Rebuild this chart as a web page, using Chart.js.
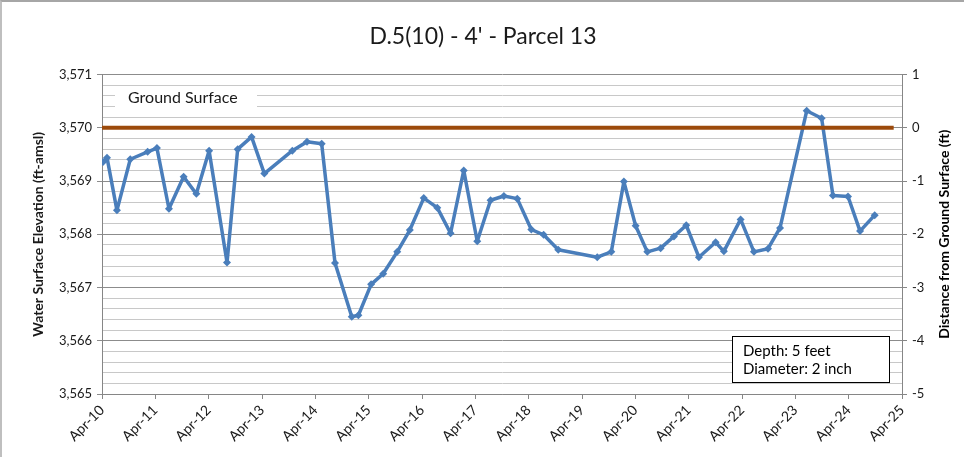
<!DOCTYPE html>
<html>
<head>
<meta charset="utf-8">
<script src="https://cdn.jsdelivr.net/npm/chart.js@4"></script>
<style>
  html, body { margin: 0; padding: 0; background: #fff; }
  #wrap { width: 964px; height: 457px; position: relative; box-sizing: border-box;
          border-top: 2px solid #a6a6a6; border-left: 2px solid #bfbfbf; }
  canvas { display: block; }
</style>
</head>
<body>
<div id="wrap"><canvas id="chart" width="962" height="455"></canvas></div>
<script>
// Chart data
const sampleDates = [
  '2010-04-08', '2010-05-05', '2010-07-12', '2010-10-12', '2011-02-09', '2011-04-12',
  '2011-07-03', '2011-10-12', '2012-01-08', '2012-04-04', '2012-08-05', '2012-10-17',
  '2013-01-21', '2013-04-17', '2013-10-26', '2014-02-05', '2014-05-14', '2014-08-14',
  '2014-12-07', '2015-01-22', '2015-04-18', '2015-07-09', '2015-10-14', '2016-01-09',
  '2016-04-13', '2016-07-14', '2016-10-14', '2017-01-13', '2017-04-14', '2017-07-14',
  '2017-10-14', '2018-01-14', '2018-04-19', '2018-07-12', '2018-10-21', '2019-07-14',
  '2019-10-19', '2020-01-14', '2020-04-03', '2020-06-22', '2020-09-22', '2020-12-22',
  '2021-03-15', '2021-06-10', '2021-10-03', '2021-11-29', '2022-03-22', '2022-06-22',
  '2022-09-27', '2022-12-18', '2023-06-18', '2023-09-29', '2023-12-15', '2024-03-27',
  '2024-06-18', '2024-09-27'
];
const waterElevation = [
  3569.36, 3569.44, 3568.45, 3569.41, 3569.55, 3569.62,
  3568.48, 3569.08, 3568.76, 3569.57, 3567.47, 3569.60,
  3569.83, 3569.14, 3569.57, 3569.74, 3569.70, 3567.46,
  3566.45, 3566.48, 3567.06, 3567.26, 3567.67, 3568.08,
  3568.68, 3568.50, 3568.02, 3569.20, 3567.87, 3568.64,
  3568.72, 3568.67, 3568.09, 3567.99, 3567.71, 3567.57,
  3567.67, 3568.99, 3568.16, 3567.67, 3567.74, 3567.96,
  3568.17, 3567.57, 3567.85, 3567.68, 3568.28, 3567.67,
  3567.73, 3568.12, 3570.32, 3570.18, 3568.73, 3568.71,
  3568.06, 3568.36
];
const groundSurfaceDates = ['2010-04-01', '2025-02-05'];
const groundSurfaceElevation = 3570;
const xTickLabels = ['Apr-10', 'Apr-11', 'Apr-12', 'Apr-13', 'Apr-14', 'Apr-15', 'Apr-16', 'Apr-17',
                     'Apr-18', 'Apr-19', 'Apr-20', 'Apr-21', 'Apr-22', 'Apr-23', 'Apr-24', 'Apr-25'];
const wellNotes = ['Depth: 5 feet', 'Diameter: 2 inch'];

const FONT = 'Lato, "Open Sans", sans-serif';

// years since Apr 1, 2010
function toX(dateStr) {
  const [y, m, d] = dateStr.split('-').map(Number);
  return y + (m - 1) / 12 + (d - 1) / 365 - 2010.25;
}

const isMajor = v => Math.abs(v - Math.round(v)) < 1e-6;

// Annotations: ground surface label, well info box, right axis title
const annotations = {
  id: 'annotations',
  beforeDatasetsDraw(chart) {
    const { ctx, scales: { x, y } } = chart;
    const left = x.getPixelForValue(0);
    const cy = y.getPixelForValue(3570.57);
    ctx.save();
    ctx.fillStyle = '#fff';
    ctx.fillRect(left + 13, cy - 11, 142, 22);
    ctx.fillStyle = '#1a1a1a';
    ctx.font = '16px ' + FONT;
    ctx.textBaseline = 'middle';
    ctx.fillText('Ground Surface', left + 26, cy);
    ctx.restore();
  },
  afterDraw(chart) {
    const { ctx, chartArea } = chart;
    ctx.save();
    // well info box
    const bw = 157, bh = 46;
    const bx = chartArea.right - 13 - bw, by = chartArea.bottom - 12 - bh;
    ctx.fillStyle = '#fff';
    ctx.fillRect(bx, by, bw, bh);
    ctx.strokeStyle = '#000';
    ctx.lineWidth = 1;
    ctx.strokeRect(bx + 0.5, by + 0.5, bw, bh);
    ctx.fillStyle = '#000';
    ctx.font = '15px ' + FONT;
    ctx.textBaseline = 'middle';
    wellNotes.forEach((t, i) => ctx.fillText(t, bx + 11, by + 15 + i * 18));
    // right axis title, reading upward
    ctx.translate(942, (chartArea.top + chartArea.bottom) / 2);
    ctx.rotate(-Math.PI / 2);
    ctx.textAlign = 'center';
    ctx.font = 'bold 14px ' + FONT;
    ctx.fillText('Distance from Ground Surface (ft)', 0, 0);
    ctx.restore();
  }
};

new Chart(document.getElementById('chart'), {
  type: 'line',
  data: {
    datasets: [
      {
        label: 'Ground Surface',
        data: groundSurfaceDates.map(d => ({ x: toX(d), y: groundSurfaceElevation })),
        borderColor: '#9c4a0b',
        borderWidth: 4,
        pointRadius: 0,
        yAxisID: 'y'
      },
      {
        label: 'Water Surface Elevation',
        data: sampleDates.map((d, i) => ({ x: toX(d), y: waterElevation[i] })),
        borderColor: '#4a7ebb',
        backgroundColor: '#4a7ebb',
        borderWidth: 3.5,
        borderJoinStyle: 'round',
        borderCapStyle: 'round',
        pointStyle: 'rectRot',
        pointRadius: 4,
        pointBorderWidth: 0,
        tension: 0,
        yAxisID: 'y'
      }
    ]
  },
  options: {
    responsive: false,
    animation: false,
    layout: { padding: 0 },
    plugins: {
      legend: { display: false },
      tooltip: { enabled: false },
      title: {
        display: true,
        text: "D.5(10) - 4' - Parcel 13",
        color: '#1a1a1a',
        font: { family: FONT, size: 23, weight: 'normal' },
        padding: { top: 21, bottom: 24 }
      }
    },
    scales: {
      x: {
        type: 'linear',
        min: 0,
        max: 15,
        afterFit: s => { s.height = 63; },
        ticks: {
          stepSize: 1,
          autoSkip: false,
          minRotation: 45,
          maxRotation: 45,
          padding: 3,
          color: '#1a1a1a',
          font: { family: FONT, size: 14 },
          callback: v => xTickLabels[v]
        },
        grid: { drawOnChartArea: false, tickLength: 5, color: '#868686' },
        border: { color: '#868686' }
      },
      y: {
        position: 'left',
        min: 3565,
        max: 3571,
        afterFit: s => { s.width = 100; },
        ticks: {
          stepSize: 0.2,
          autoSkip: false,
          padding: 5,
          color: '#1a1a1a',
          font: { family: FONT, size: 13 },
          callback: v => isMajor(v) ? Math.round(v).toLocaleString('en-US') : ''
        },
        grid: {
          tickLength: 5,
          color: c => isMajor(c.tick.value) ? '#8c8c8c' : '#c8c8c8',
          tickColor: c => isMajor(c.tick.value) ? '#8c8c8c' : 'rgba(0,0,0,0)'
        },
        border: { color: '#868686' },
        title: {
          display: true,
          text: 'Water Surface Elevation (ft-amsl)',
          color: '#1a1a1a',
          font: { family: FONT, size: 14, weight: 'bold' },
          padding: { top: 28, bottom: 0 }
        }
      },
      y2: {
        position: 'right',
        min: -5,
        max: 1,
        afterFit: s => { s.width = 62; },
        ticks: {
          stepSize: 1,
          autoSkip: false,
          padding: 5,
          color: '#1a1a1a',
          font: { family: FONT, size: 13 }
        },
        grid: { drawOnChartArea: false, tickLength: 5, color: '#868686' },
        border: { color: '#868686' }
      }
    }
  },
  plugins: [annotations]
});
</script>
</body>
</html>
